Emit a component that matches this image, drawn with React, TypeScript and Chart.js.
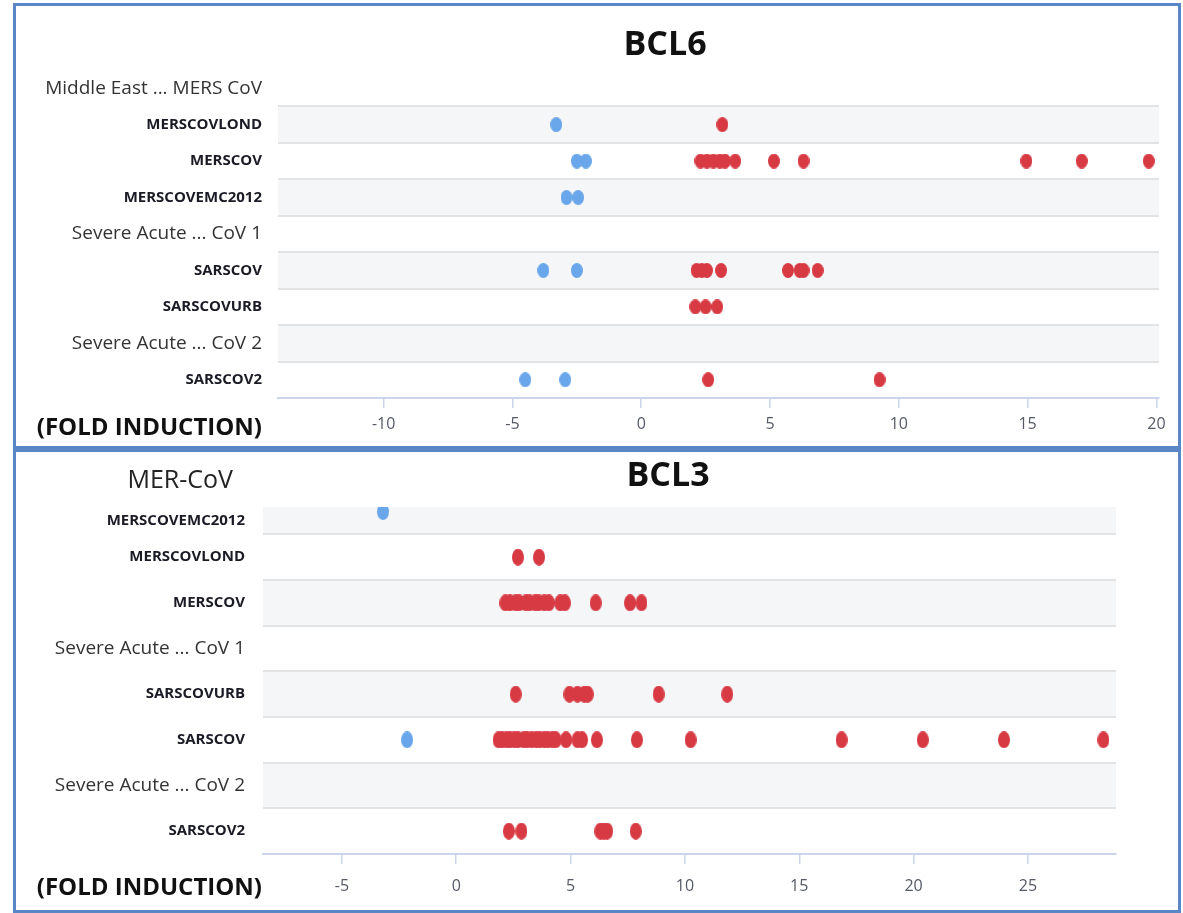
import React, { useEffect, useRef } from 'react';
import { Chart, registerables } from 'chart.js';

Chart.register(...registerables);

const FONT = '"Open Sans", "DejaVu Sans", sans-serif';
const RED = '#d83a44';
const BLUE = '#6aa6ea';

// ---------- BCL6 (top panel) ----------
const bcl6Title = 'BCL6';
const bcl6Rows = [
  'Middle East ... MERS CoV',
  'MERSCOVLOND',
  'MERSCOV',
  'MERSCOVEMC2012',
  'Severe Acute ... CoV 1',
  'SARSCOV',
  'SARSCOVURB',
  'Severe Acute ... CoV 2',
  'SARSCOV2',
];
const bcl6Groups = ['Middle East ... MERS CoV', 'Severe Acute ... CoV 1', 'Severe Acute ... CoV 2'];
const bcl6MERSCOVLOND = [-3.3, 3.15];
const bcl6MERSCOV = [-2.5, -2.15, 2.3, 2.55, 2.8, 3.05, 3.25, 3.65, 5.15, 6.3, 14.95, 17.1, 19.7];
const bcl6MERSCOVEMC2012 = [-2.9, -2.45];
const bcl6SARSCOV = [-3.8, -2.5, 2.15, 2.35, 2.55, 3.1, 5.7, 6.15, 6.3, 6.85];
const bcl6SARSCOVURB = [2.1, 2.5, 2.95];
const bcl6SARSCOV2 = [-4.5, -2.95, 2.6, 9.25];
const bcl6Values: number[][] = [
  [],
  bcl6MERSCOVLOND,
  bcl6MERSCOV,
  bcl6MERSCOVEMC2012,
  [],
  bcl6SARSCOV,
  bcl6SARSCOVURB,
  [],
  bcl6SARSCOV2,
];
const bcl6XTicks = [-10, -5, 0, 5, 10, 15, 20];

// ---------- BCL3 (bottom panel) ----------
const bcl3Title = 'BCL3';
const bcl3Subtitle = 'MER-CoV';
const bcl3Rows = [
  'MERSCOVEMC2012',
  'MERSCOVLOND',
  'MERSCOV',
  'Severe Acute ... CoV 1',
  'SARSCOVURB',
  'SARSCOV',
  'Severe Acute ... CoV 2',
  'SARSCOV2',
];
const bcl3Groups = ['Severe Acute ... CoV 1', 'Severe Acute ... CoV 2'];
const bcl3MERSCOVEMC2012 = [-3.2];
const bcl3MERSCOVLOND = [2.7, 3.62];
const bcl3MERSCOV = [2.15, 2.35, 2.6, 2.75, 3.05, 3.2, 3.45, 3.6, 3.85, 4.05, 4.55, 4.75, 6.1, 7.6, 8.1];
const bcl3SARSCOVURB = [2.6, 4.95, 5.3, 5.6, 5.75, 8.85, 11.85];
const bcl3SARSCOV = [
  -2.15, 1.85, 2.0, 2.2, 2.35, 2.55, 2.7, 2.95, 3.1, 3.3, 3.5, 3.65, 3.85, 4.0, 4.2, 4.35,
  4.8, 5.3, 5.5, 6.15, 7.9, 10.25, 16.85, 20.4, 23.95, 28.3,
];
const bcl3SARSCOV2 = [2.3, 2.85, 6.3, 6.45, 6.6, 7.85];
const bcl3Values: number[][] = [
  bcl3MERSCOVEMC2012,
  bcl3MERSCOVLOND,
  bcl3MERSCOV,
  [],
  bcl3SARSCOVURB,
  bcl3SARSCOV,
  [],
  bcl3SARSCOV2,
];
const bcl3XTicks = [-5, 0, 5, 10, 15, 20, 25];

const axisLabel = '(FOLD INDUCTION)';

const W = 1183;

type PanelCfg = {
  title: string;
  subtitle?: string;
  rows: string[];
  groups: string[];
  values: number[][];
  xTicks: number[];
  xMin: number;
  xMax: number;
  yMin: number;
  yMax: number;
  height: number;
  area: { left: number; right: number; top: number; bottom: number };
  bandParity: number;
  titlePos: [number, number];
  subtitlePos?: [number, number];
  foldPos: [number, number];
  yPad: number;
  xPad: number;
  dot: [number, number];
  clip: any;
};

function makeDot(color: string, w: number, h: number) {
  const c = document.createElement('canvas');
  c.width = w;
  c.height = h;
  const g = c.getContext('2d')!;
  g.fillStyle = color;
  g.beginPath();
  g.ellipse(w / 2, h / 2, w / 2, h / 2, 0, 0, Math.PI * 2);
  g.fill();
  return c;
}

function buildChart(canvas: HTMLCanvasElement, cfg: PanelCfg) {
  const blue: { x: number; y: number }[] = [];
  const red: { x: number; y: number }[] = [];
  cfg.values.forEach((vals, row) => {
    vals.forEach((v) => (v < 0 ? blue : red).push({ x: v, y: row }));
  });
  const isGroup = (i: number) => cfg.groups.includes(cfg.rows[i]);
  const tickPos = (i: number) => (i === 0 && cfg.yMin > -0.5 ? (cfg.yMin + 0.5) / 2 : i);

  const bands = {
    id: 'bands',
    beforeDraw(chart: any) {
      const { ctx, chartArea: a } = chart;
      const y = chart.scales.y;
      const n = cfg.rows.length;
      ctx.save();
      ctx.fillStyle = '#f5f6f8';
      for (let i = 0; i < n; i++) {
        if (i % 2 !== cfg.bandParity) continue;
        const t = Math.max(a.top, y.getPixelForValue(i - 0.5));
        const b = Math.min(a.bottom, y.getPixelForValue(i + 0.5));
        ctx.fillRect(a.left, t, a.right - a.left, b - t);
      }
      ctx.strokeStyle = '#e2e3e5';
      ctx.lineWidth = 2;
      for (let i = 0; i < n - 1; i++) {
        const py = Math.round(y.getPixelForValue(i + 0.5));
        ctx.beginPath();
        ctx.moveTo(a.left, py);
        ctx.lineTo(a.right, py);
        ctx.stroke();
      }
      ctx.restore();
    },
  };

  const texts = {
    id: 'texts',
    afterDraw(chart: any) {
      const { ctx } = chart;
      ctx.save();
      ctx.textBaseline = 'middle';
      ctx.fillStyle = '#111';
      ctx.font = `bold 34px ${FONT}`;
      ctx.textAlign = 'center';
      ctx.fillText(cfg.title, cfg.titlePos[0], cfg.titlePos[1]);
      ctx.font = `bold 24px ${FONT}`;
      ctx.textAlign = 'right';
      ctx.fillText(axisLabel, cfg.foldPos[0], cfg.foldPos[1]);
      if (cfg.subtitle && cfg.subtitlePos) {
        ctx.font = `25px ${FONT}`;
        ctx.fillStyle = '#222';
        ctx.fillText(cfg.subtitle, cfg.subtitlePos[0], cfg.subtitlePos[1]);
      }
      ctx.restore();
    },
  };

  const dotBlue = makeDot(BLUE, cfg.dot[0], cfg.dot[1]);
  const dotRed = makeDot(RED, cfg.dot[0], cfg.dot[1]);

  return new Chart(canvas, {
    type: 'scatter',
    data: {
      datasets: [
        { data: blue, pointStyle: dotBlue as any, pointRadius: 7, backgroundColor: BLUE, borderWidth: 0, clip: cfg.clip },
        { data: red, pointStyle: dotRed as any, pointRadius: 7, backgroundColor: RED, borderWidth: 0, clip: cfg.clip },
      ],
    },
    options: {
      responsive: false,
      animation: false,
      events: [],
      layout: {
        padding: { left: 0, top: cfg.area.top, right: W - cfg.area.right, bottom: 0 },
      },
      plugins: {
        legend: { display: false },
        title: { display: false },
        tooltip: { enabled: false },
      },
      scales: {
        x: {
          type: 'linear',
          position: 'bottom',
          min: cfg.xMin,
          max: cfg.xMax,
          afterBuildTicks: (s: any) => {
            s.ticks = cfg.xTicks.map((v) => ({ value: v }));
          },
          afterFit: (s: any) => {
            s.height = cfg.height - cfg.area.bottom;
          },
          grid: { drawOnChartArea: false, drawTicks: true, tickLength: 10, color: '#ccd6eb', lineWidth: 1.5 },
          border: { display: true, color: '#ccd6eb', width: 2 },
          ticks: {
            padding: cfg.xPad,
            color: '#555a66',
            font: { family: FONT, size: 16 },
            autoSkip: false,
            maxRotation: 0,
            callback: (v: any) => String(v),
          },
        },
        y: {
          type: 'linear',
          reverse: true,
          min: cfg.yMin,
          max: cfg.yMax,
          afterBuildTicks: (s: any) => {
            s.ticks = cfg.rows.map((_, i) => ({ value: tickPos(i) }));
          },
          afterFit: (s: any) => {
            s.width = cfg.area.left;
          },
          grid: { display: false, drawTicks: false },
          border: { display: false },
          ticks: {
            padding: cfg.yPad,
            autoSkip: false,
            callback: (_v: any, i: number) => cfg.rows[i],
            font: (c: any) =>
              isGroup(c.index)
                ? { family: FONT, size: 19, weight: 'normal' }
                : { family: FONT, size: 15, weight: 'bold' },
            color: (c: any) => (isGroup(c.index) ? '#333333' : '#1b1b26'),
          },
        },
      },
    },
    plugins: [bands, texts],
  });
}

const topCfg: PanelCfg = {
  title: bcl6Title,
  rows: bcl6Rows,
  groups: bcl6Groups,
  values: bcl6Values,
  xTicks: bcl6XTicks,
  xMin: -14.1,
  xMax: 20.1,
  yMin: -0.5,
  yMax: 8.5,
  height: 447,
  area: { left: 278, right: 1159, top: 70, bottom: 398 },
  bandParity: 1,
  titlePos: [665, 45],
  foldPos: [262, 428],
  yPad: 16,
  xPad: 7,
  dot: [12, 15],
  clip: undefined,
};

const bottomCfg: PanelCfg = {
  title: bcl3Title,
  subtitle: bcl3Subtitle,
  rows: bcl3Rows,
  groups: bcl3Groups,
  values: bcl3Values,
  xTicks: bcl3XTicks,
  xMin: -8.45,
  xMax: 28.85,
  yMin: -0.1,
  yMax: 7.5,
  height: 466,
  area: { left: 263, right: 1116, top: 60, bottom: 407 },
  bandParity: 0,
  titlePos: [668, 29],
  subtitlePos: [233, 34],
  foldPos: [262, 441],
  yPad: 18,
  xPad: 13,
  dot: [12, 17],
  clip: 0,
};

export default function App() {
  const topRef = useRef<HTMLCanvasElement>(null);
  const botRef = useRef<HTMLCanvasElement>(null);

  useEffect(() => {
    const c1 = buildChart(topRef.current!, topCfg);
    const c2 = buildChart(botRef.current!, bottomCfg);
    return () => {
      c1.destroy();
      c2.destroy();
    };
  }, []);

  const border = '3px solid #5b87c7';
  return (
    <div style={{ position: 'fixed', left: 0, top: 0, width: W, height: 913, background: '#fff', overflow: 'hidden' }}>
      <div style={{ position: 'absolute', left: 13, top: 3, width: 1168, height: 446, border, boxSizing: 'border-box' }} />
      <div style={{ position: 'absolute', left: 13, top: 449, width: 1168, height: 464, border, boxSizing: 'border-box' }} />
      <canvas ref={topRef} width={W} height={447} style={{ position: 'absolute', left: 0, top: 0, width: W, height: 447 }} />
      <canvas ref={botRef} width={W} height={466} style={{ position: 'absolute', left: 0, top: 447, width: W, height: 466 }} />
    </div>
  );
}
